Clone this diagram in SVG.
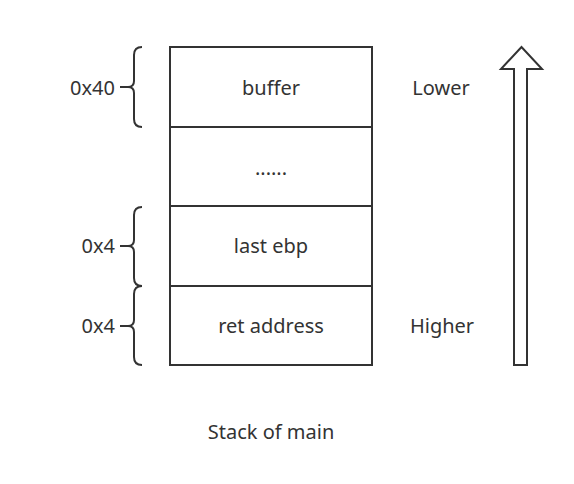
<svg xmlns="http://www.w3.org/2000/svg" width="574" height="484" viewBox="0 0 574 484">
<style>
.t{font-family:"Noto Sans","Open Sans",sans-serif;font-size:20px;fill:#333;dominant-baseline:central}
.c{text-anchor:middle}
.r{text-anchor:end}
.box{fill:#fff;stroke:#333;stroke-width:2}
.br{fill:none;stroke:#333;stroke-width:2}
</style>
<rect width="574" height="484" fill="#fff"/>
<g id="stack">
<g id="n-buffer"><rect class="box" x="170" y="47" width="202" height="80"/><text class="t c" x="271" y="87">buffer</text></g>
<g id="n-dots"><rect class="box" x="170" y="127" width="202" height="79"/><text class="t c" x="271" y="167">......</text></g>
<g id="n-ebp"><rect class="box" x="170" y="206" width="202" height="80"/><text class="t c" x="271" y="245">last ebp</text></g>
<g id="n-ret"><rect class="box" x="170" y="286" width="202" height="79"/><text class="t c" x="271" y="325">ret address</text></g>
</g>
<g id="braces">
<path class="br" d="M142,47 Q134,47 134,55 L134,81 Q134,87 128,87 L120,87 M128,87 Q134,87 134,93 L134,119 Q134,127 142,127"/>
<path class="br" d="M142,207 Q134,207 134,215 L134,240 Q134,246 128,246 L120,246 M128,246 Q134,246 134,252 L134,278 Q134,286 142,286"/>
<path class="br" d="M142,286 Q134,286 134,294 L134,320 Q134,326 128,326 L120,326 M128,326 Q134,326 134,332 L134,357 Q134,365 142,365"/>
<text class="t r" x="115" y="87">0x40</text>
<text class="t r" x="115" y="245">0x4</text>
<text class="t r" x="115" y="325">0x4</text>
</g>
<g id="arrow">
<path d="M514,365 L514,69 L501,69 L521.5,47 L542,69 L527,69 L527,365 Z" fill="#fff" stroke="#333" stroke-width="2" stroke-linejoin="miter"/>
</g>
<text class="t c" x="441" y="87">Lower</text>
<text class="t c" x="442" y="325">Higher</text>
<text class="t c" x="271" y="431">Stack of main</text>
</svg>
